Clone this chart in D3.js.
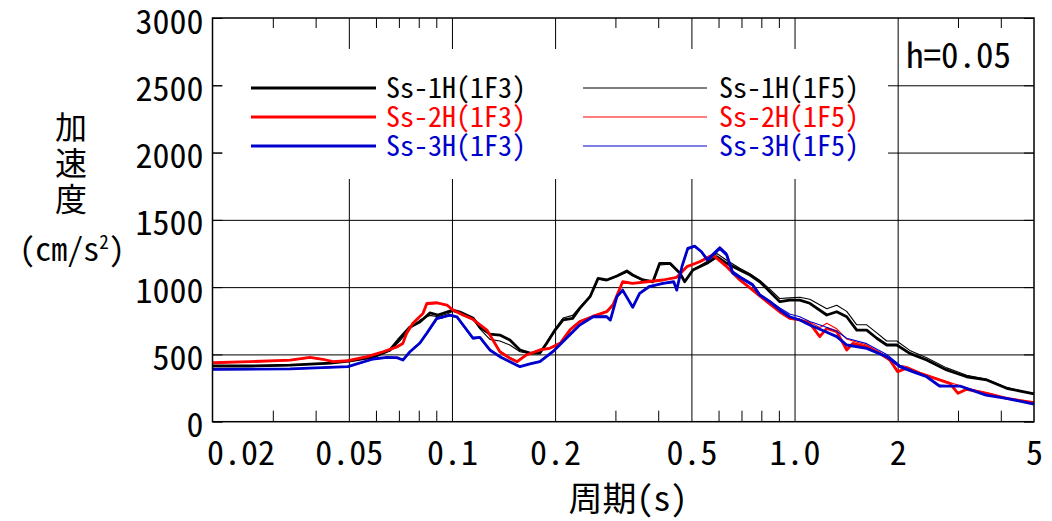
<!DOCTYPE html>
<html>
<head>
<meta charset="utf-8">
<script src="https://cdn.jsdelivr.net/npm/d3@7/dist/d3.min.js"></script>
<style>
  html, body { margin: 0; padding: 0; background: #fff; }
  svg { display: block; }
</style>
</head>
<body>
<svg id="chart"></svg>
<script>
/* Acceleration response spectra, h=0.05 — six curves on a log period axis */

const MONO = '"Noto Sans Mono CJK JP", "Liberation Mono", monospace';
const CJK  = '"Noto Sans CJK JP", sans-serif';

const X_LABELS = [0.02, 0.05, 0.1, 0.2, 0.5, 1, 2, 5];
const X_LABEL_TEXT = ['0.02', '0.05', '0.1', '0.2', '0.5', '1.0', '2', '5'];
const X_GRID  = [0.05, 0.1, 0.2, 0.5, 1, 2];
const X_MINOR = [0.03, 0.04, 0.06, 0.07, 0.08, 0.09, 0.3, 0.4, 0.6, 0.7, 0.8, 0.9, 3, 4];
const Y_TICKS = [0, 500, 1000, 1500, 2000, 2500, 3000];

/* [period (s), acceleration (cm/s2)] */
const ss1h_1f3 = [
  [0.020, 414], [0.0257, 414], [0.0337, 421], [0.0441, 436], [0.050, 451], [0.0588, 480],
  [0.0659, 533], [0.0705, 622], [0.0754, 704], [0.0806, 741], [0.0862, 808], [0.091, 793],
  [0.0967, 815], [0.1006, 830], [0.1055, 815], [0.1151, 771], [0.1207, 703], [0.129, 651],
  [0.138, 644], [0.1476, 607], [0.158, 533], [0.169, 510], [0.1806, 510], [0.189, 583],
  [0.200, 681], [0.211, 756], [0.225, 768], [0.236, 842], [0.253, 929], [0.267, 1065],
  [0.283, 1053], [0.303, 1083], [0.324, 1120], [0.337, 1090], [0.361, 1053], [0.386, 1040],
  [0.404, 1177], [0.433, 1177], [0.463, 1103], [0.478, 1040], [0.505, 1127], [0.555, 1177],
  [0.593, 1226], [0.634, 1177], [0.692, 1127], [0.741, 1090], [0.792, 1040], [0.847, 966],
  [0.906, 892], [0.968, 904], [1.036, 904], [1.108, 880], [1.242, 793], [1.328, 817],
  [1.42, 780], [1.519, 681], [1.624, 681], [1.738, 620], [1.858, 570], [1.988, 570],
  [2.17, 508], [2.43, 458], [2.78, 384], [3.18, 334], [3.64, 310], [4.16, 248],
  [4.64, 223], [5.0, 206]
];
const ss1h_1f5 = [
  [0.020, 410], [0.0257, 410], [0.0337, 418], [0.0441, 433], [0.050, 449], [0.0588, 476],
  [0.0659, 525], [0.0705, 600], [0.0754, 690], [0.0806, 755], [0.0862, 790], [0.091, 780],
  [0.0967, 800], [0.1006, 820], [0.1055, 805], [0.1151, 765], [0.1207, 690], [0.129, 612],
  [0.138, 600], [0.1476, 570], [0.158, 520], [0.169, 505], [0.1806, 512], [0.189, 590],
  [0.200, 690], [0.211, 770], [0.225, 790], [0.236, 850], [0.253, 935], [0.267, 1060],
  [0.283, 1050], [0.303, 1080], [0.324, 1110], [0.337, 1085], [0.361, 1050], [0.386, 1040],
  [0.404, 1165], [0.433, 1170], [0.463, 1100], [0.478, 1045], [0.505, 1130], [0.555, 1190],
  [0.593, 1250], [0.634, 1200], [0.692, 1140], [0.741, 1100], [0.792, 1050], [0.847, 985],
  [0.906, 915], [0.968, 920], [1.036, 925], [1.108, 910], [1.242, 840], [1.328, 865],
  [1.42, 820], [1.519, 720], [1.624, 720], [1.738, 660], [1.858, 600], [1.988, 600],
  [2.17, 530], [2.43, 475], [2.78, 400], [3.18, 345], [3.64, 315], [4.16, 255],
  [4.64, 225], [5.0, 206]
];
const ss2h_1f3 = [
  [0.020, 438], [0.0257, 446], [0.0337, 458], [0.0385, 478], [0.042, 464], [0.0449, 446],
  [0.0497, 453], [0.0565, 483], [0.0629, 520], [0.0691, 557], [0.0719, 582], [0.0737, 657],
  [0.0769, 731], [0.0823, 805], [0.0845, 880], [0.0904, 884], [0.0967, 867], [0.1006, 830],
  [0.1077, 793], [0.1151, 761], [0.1265, 681], [0.138, 520], [0.1476, 471], [0.155, 446],
  [0.165, 496], [0.1806, 533], [0.193, 545], [0.207, 582], [0.221, 681], [0.236, 743],
  [0.258, 780], [0.283, 817], [0.295, 867], [0.315, 1040], [0.337, 1028], [0.371, 1040],
  [0.413, 1053], [0.453, 1073], [0.485, 1152], [0.529, 1189], [0.577, 1239], [0.634, 1152],
  [0.692, 1053], [0.755, 978], [0.83, 892], [0.906, 815], [0.968, 768], [1.036, 756],
  [1.108, 731], [1.185, 632], [1.242, 694], [1.328, 669], [1.42, 533], [1.479, 582],
  [1.624, 557], [1.773, 508], [1.897, 458], [2.0, 372], [2.126, 397], [2.32, 360],
  [2.65, 310], [2.84, 285], [3.0, 211], [3.18, 241], [3.64, 211], [4.16, 174], [5.0, 141]
];
const ss2h_1f5 = [
  [0.020, 436], [0.0257, 444], [0.0337, 456], [0.0385, 474], [0.042, 462], [0.0449, 446],
  [0.0497, 455], [0.0565, 480], [0.0629, 515], [0.0691, 550], [0.0719, 575], [0.0737, 645],
  [0.0769, 725], [0.0823, 800], [0.0845, 870], [0.0904, 878], [0.0967, 862], [0.1006, 828],
  [0.1077, 790], [0.1151, 758], [0.1265, 675], [0.138, 525], [0.1476, 478], [0.155, 452],
  [0.165, 500], [0.1806, 538], [0.193, 550], [0.207, 590], [0.221, 690], [0.236, 750],
  [0.258, 790], [0.283, 825], [0.295, 875], [0.315, 1030], [0.337, 1025], [0.371, 1040],
  [0.413, 1055], [0.453, 1075], [0.485, 1150], [0.529, 1195], [0.577, 1245], [0.634, 1160],
  [0.692, 1060], [0.755, 985], [0.83, 900], [0.906, 822], [0.968, 775], [1.036, 762],
  [1.108, 740], [1.185, 700], [1.242, 731], [1.328, 690], [1.42, 614], [1.479, 600],
  [1.624, 570], [1.773, 515], [1.897, 470], [2.0, 421], [2.126, 410], [2.32, 368],
  [2.65, 318], [2.84, 292], [3.0, 273], [3.18, 250], [3.64, 214], [4.16, 176], [5.0, 143]
];
const ss3h_1f3 = [
  [0.020, 389], [0.0337, 392], [0.0497, 409], [0.0588, 466], [0.0646, 478], [0.0691, 476],
  [0.0719, 458], [0.0754, 520], [0.0806, 585], [0.0845, 659], [0.0904, 770], [0.0941, 778],
  [0.0986, 793], [0.1034, 780], [0.1151, 622], [0.1207, 627], [0.129, 533], [0.138, 483],
  [0.1476, 446], [0.158, 409], [0.169, 429], [0.1806, 446], [0.197, 520], [0.218, 632],
  [0.236, 718], [0.258, 780], [0.283, 780], [0.290, 755], [0.303, 929], [0.315, 978],
  [0.337, 850], [0.353, 954], [0.376, 1003], [0.413, 1028], [0.444, 1040], [0.453, 978],
  [0.469, 1152], [0.488, 1288], [0.511, 1305], [0.535, 1263], [0.557, 1201], [0.577, 1239],
  [0.605, 1288], [0.634, 1239], [0.66, 1105], [0.70, 1065], [0.755, 1016], [0.792, 941],
  [0.847, 892], [0.906, 830], [0.968, 780], [1.036, 756], [1.108, 718], [1.20, 681],
  [1.328, 632], [1.42, 570], [1.624, 545], [1.858, 483], [2.03, 409], [2.21, 372],
  [2.43, 334], [2.65, 265], [3.04, 265], [3.62, 198], [4.15, 174], [5.0, 131]
];
const ss3h_1f5 = [
  [0.020, 386], [0.0337, 390], [0.0497, 407], [0.0588, 462], [0.0646, 475], [0.0691, 472],
  [0.0719, 462], [0.0754, 515], [0.0806, 580], [0.0845, 650], [0.0904, 760], [0.0941, 772],
  [0.0986, 785], [0.1034, 772], [0.1151, 615], [0.1207, 620], [0.129, 530], [0.138, 480],
  [0.1476, 445], [0.158, 412], [0.169, 432], [0.1806, 450], [0.197, 525], [0.218, 640],
  [0.236, 722], [0.258, 782], [0.283, 785], [0.290, 760], [0.303, 925], [0.315, 970],
  [0.337, 855], [0.353, 950], [0.376, 1000], [0.413, 1025], [0.444, 1040], [0.453, 985],
  [0.469, 1145], [0.488, 1280], [0.511, 1298], [0.535, 1262], [0.557, 1210], [0.577, 1250],
  [0.605, 1300], [0.634, 1252], [0.66, 1120], [0.70, 1075], [0.755, 1025], [0.792, 950],
  [0.847, 900], [0.906, 845], [0.968, 800], [1.036, 780], [1.108, 745], [1.20, 715],
  [1.328, 672], [1.42, 620], [1.624, 580], [1.858, 500], [2.03, 420], [2.21, 380],
  [2.43, 338], [2.65, 272], [3.04, 262], [3.62, 200], [4.15, 175], [5.0, 133]
];

const SERIES = [
  { name: 'Ss-1H(1F3)', data: ss1h_1f3, color: '#000000', width: 2.8, col: 0, row: 0 },
  { name: 'Ss-2H(1F3)', data: ss2h_1f3, color: '#ff0000', width: 2.8, col: 0, row: 1 },
  { name: 'Ss-3H(1F3)', data: ss3h_1f3, color: '#0000cc', width: 2.8, col: 0, row: 2 },
  { name: 'Ss-1H(1F5)', data: ss1h_1f5, color: '#000000', width: 1.1, col: 1, row: 0 },
  { name: 'Ss-2H(1F5)', data: ss2h_1f5, color: '#ff0000', width: 1.1, col: 1, row: 1 },
  { name: 'Ss-3H(1F5)', data: ss3h_1f5, color: '#0000cc', width: 1.1, col: 1, row: 2 },
];

const W = 1052, H = 521;
const L = 212.5, R = 1034, T = 18, B = 421.7;

const svg = d3.select('#chart').attr('width', W).attr('height', H);

const x = d3.scaleLog().domain([0.02, 5]).range([L, R]);
const y = d3.scaleLinear().domain([0, 3000]).range([B, T]);

/* ── grid ── */
svg.append('g')
  .attr('transform', `translate(0,${B})`)
  .call(d3.axisBottom(x).tickValues(X_GRID).tickSize(-(B - T)).tickFormat(''))
  .call(ax => ax.select('.domain').remove())
  .call(ax => ax.selectAll('.tick line').attr('stroke', '#000').attr('stroke-width', 1));

svg.append('g')
  .attr('transform', `translate(${L},0)`)
  .call(d3.axisLeft(y).tickValues([500, 1000, 1500, 2000, 2500]).tickSize(-(R - L)).tickFormat(''))
  .call(ax => ax.select('.domain').remove())
  .call(ax => ax.selectAll('.tick line').attr('stroke', '#000').attr('stroke-width', 1));

/* legend area is blanked out */
svg.append('rect')
  .attr('x', 222).attr('y', 49)
  .attr('width', 888 - 222).attr('height', 179 - 49)
  .attr('fill', '#fff');

/* ── minor ticks (inward) ── */
svg.append('g')
  .attr('transform', `translate(0,${B})`)
  .call(d3.axisBottom(x).tickValues(X_MINOR).tickSize(-11).tickFormat(''))
  .call(ax => ax.select('.domain').remove())
  .call(ax => ax.selectAll('.tick line').attr('stroke', '#000'));

svg.append('g')
  .attr('transform', `translate(0,${T})`)
  .call(d3.axisTop(x).tickValues(X_MINOR).tickSize(-10).tickFormat(''))
  .call(ax => ax.select('.domain').remove())
  .call(ax => ax.selectAll('.tick line').attr('stroke', '#000'));

svg.append('g')
  .attr('transform', `translate(${L},0)`)
  .call(d3.axisLeft(y).tickValues(Y_TICKS).tickSize(-10).tickFormat(''))
  .call(ax => ax.select('.domain').remove())
  .call(ax => ax.selectAll('.tick line').attr('stroke', '#000'));

svg.append('g')
  .attr('transform', `translate(${R},0)`)
  .call(d3.axisRight(y).tickValues(Y_TICKS).tickSize(-10).tickFormat(''))
  .call(ax => ax.select('.domain').remove())
  .call(ax => ax.selectAll('.tick line').attr('stroke', '#000'));

/* ── tick labels ── */
svg.append('g')
  .attr('transform', `translate(0,${B})`)
  .call(d3.axisBottom(x).tickValues(X_LABELS).tickSize(0)
    .tickFormat((d, i) => X_LABEL_TEXT[i]))
  .call(ax => ax.select('.domain').remove())
  .call(ax => ax.selectAll('.tick text')
    .attr('y', 43).attr('dy', 0)
    .attr('fill', '#000')
    .attr('font-size', 34)
    .attr('font-family', MONO)
    .attr('dx', (d, i) => i === 0 ? 28 : 0));

svg.append('g')
  .attr('transform', `translate(${L},0)`)
  .call(d3.axisLeft(y).tickValues(Y_TICKS).tickSize(0).tickPadding(9).tickFormat(d => String(d)))
  .call(ax => ax.select('.domain').remove())
  .call(ax => ax.selectAll('.tick text')
    .attr('dy', 15)
    .attr('fill', '#000')
    .attr('font-size', 34)
    .attr('font-family', MONO));

/* ── curves ── */
const line = d3.line().x(d => x(d[0])).y(d => y(d[1]));
const plot = svg.append('g');
[0, 1, 2].forEach(k => {
  [SERIES[k], SERIES[k + 3]].forEach(s => {
    plot.append('path')
      .datum(s.data)
      .attr('d', line)
      .attr('fill', 'none')
      .attr('stroke', s.color)
      .attr('stroke-width', s.width)
      .attr('stroke-linejoin', 'round');
  });
});

/* ── frame ── */
svg.append('rect')
  .attr('x', L).attr('y', T)
  .attr('width', R - L).attr('height', B - T)
  .attr('fill', 'none')
  .attr('stroke', '#000')
  .attr('stroke-width', 1.5);

/* ── legend ── */
const LEG_X = [[251, 376, 386], [583, 707, 719]];
const LEG_Y = 88, LEG_DY = 29;
SERIES.forEach(s => {
  const [x0, x1, tx] = LEG_X[s.col];
  const yy = LEG_Y + s.row * LEG_DY;
  svg.append('line')
    .attr('x1', x0).attr('x2', x1)
    .attr('y1', yy).attr('y2', yy)
    .attr('stroke', s.color)
    .attr('stroke-width', s.width);
  svg.append('text')
    .attr('x', tx).attr('y', yy + 9.5)
    .attr('fill', s.color)
    .attr('font-size', 28)
    .attr('font-family', MONO)
    .text(s.name);
});

svg.append('text')
  .attr('x', 906).attr('y', 68)
  .attr('font-size', 35)
  .attr('font-family', MONO)
  .text('h=0.05');

/* ── axis titles ── */
const yTitle = svg.append('g').attr('font-family', CJK).attr('font-size', 32);
['加', '速', '度'].forEach((c, i) => {
  yTitle.append('text')
    .attr('x', 71).attr('y', 139 + i * 36)
    .attr('text-anchor', 'middle')
    .text(c);
});
const unit = svg.append('text')
  .attr('x', 72).attr('y', 261)
  .attr('text-anchor', 'middle')
  .attr('font-family', MONO)
  .attr('font-size', 32);
unit.append('tspan').text('(cm/s');
unit.append('tspan').attr('font-size', 19).attr('dy', -12).text('2');
unit.append('tspan').attr('dy', 12).text(')');

svg.append('text')
  .attr('x', 628).attr('y', 511)
  .attr('text-anchor', 'middle')
  .attr('font-family', MONO)
  .attr('font-size', 34)
  .text('周期(s)');
</script>
</body>
</html>
